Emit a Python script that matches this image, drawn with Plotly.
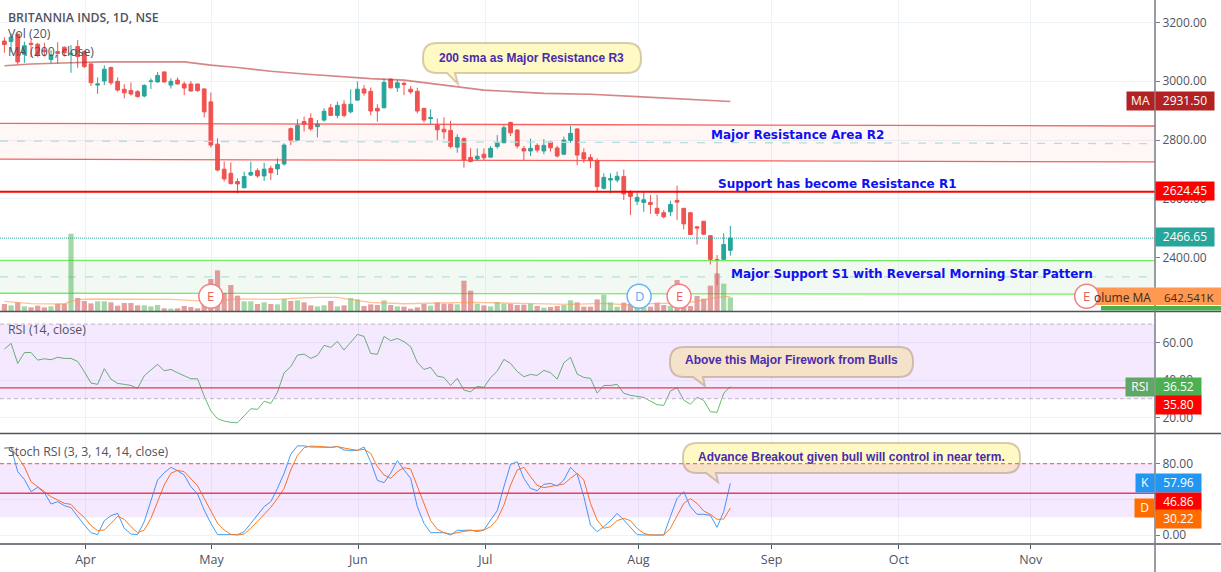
import plotly.graph_objects as go

opens = [3137,3135,3160,3092,3129,3126,3106,3074,3101,3116,3092,3118,3101,3059,2987,3001,3047,3000,2973,2969,2965,2950,2999,2998,3032,2987,3004,2991,2991,2991,
         2974,2930,2786,2701,2687,2659,2638,2681,2696,2678,2704,2702,2719,2839,2800,2863,2874,2846,2868,2910,2884,2922,2896,2936,2974,2966,2908,2910,3007,2978,
         2993,2973,2966,2908,2873,2851,2837,2833,2776,2805,2741,2736,2752,2742,2778,2791,2860,2834,2771,2763,2782,2763,2793,2773,2752,2799,2838,2757,2741,2730,
         2636,2664,2664,2676,2625,2592,2588,2588,2568,2553,2556,2595,2568,2553,2505,2524,2475,2394,2394,2425]
highs = [3150,3163,3163,3135,3140,3131,3131,3106,3133,3118,3123,3140,3106,3061,3013,3054,3050,3013,2990,2996,2970,2990,3010,3032,3032,3010,3013,2999,3001,2991,
         2976,2962,2806,2727,2724,2670,2693,2727,2704,2723,2713,2738,2789,2843,2871,2880,2891,2868,2908,2923,2931,2936,2973,3000,2987,2979,2922,3009,3010,3004,
         2999,2984,2978,2908,2905,2874,2877,2866,2820,2809,2772,2772,2772,2780,2817,2851,2863,2837,2780,2805,2789,2803,2797,2780,2812,2848,2840,2772,2752,2738,
         2687,2687,2693,2700,2630,2621,2625,2613,2614,2562,2594,2645,2568,2554,2508,2524,2475,2409,2483,2508]
lows = [3097,3099,3058,3063,3082,3082,3084,3061,3061,3084,3029,3046,3045,2984,2957,2987,2987,2965,2942,2951,2944,2945,2974,2995,2995,2975,2989,2953,2965,2965,
        2877,2775,2694,2659,2649,2619,2636,2678,2672,2661,2664,2681,2713,2783,2798,2829,2832,2809,2863,2882,2874,2877,2891,2934,2951,2885,2863,2908,2975,2964,
        2953,2957,2891,2860,2854,2800,2803,2772,2757,2706,2724,2732,2732,2740,2771,2789,2814,2772,2732,2746,2758,2752,2761,2741,2749,2791,2715,2723,2704,2622,
        2632,2619,2656,2596,2545,2579,2556,2549,2542,2534,2542,2528,2496,2477,2445,2477,2377,2307,2392,2407]
closes = [3125,3150,3066,3121,3126,3089,3101,3089,3095,3097,3095,3084,3050,2995,2991,3041,2995,2970,2961,2957,2948,2986,3001,3020,2998,3000,2991,2977,2967,2968,
          2896,2783,2698,2668,2652,2651,2676,2690,2678,2701,2689,2717,2783,2800,2850,2854,2838,2855,2898,2884,2918,2884,2922,2973,2960,2899,2899,2996,2978,2995,
          2989,2964,2899,2868,2877,2835,2828,2778,2809,2732,2727,2745,2740,2772,2791,2842,2825,2780,2763,2772,2766,2782,2774,2746,2800,2823,2749,2736,2730,2642,
          2673,2669,2677,2617,2608,2605,2597,2581,2551,2539,2581,2589,2515,2479,2501,2480,2394,2391,2445,2466.65]
volumes_k = [308,249,381,205,161,235,161,205,323,323,3403,572,440,337,425,425,381,235,352,352,249,249,205,264,117,103,117,220,176,117,
             499,1408,1790,792,1144,675,425,425,308,381,308,293,528,440,469,381,249,205,249,440,205,249,572,513,220,293,264,469,264,205,
             191,103,161,308,235,381,323,323,293,1335,895,323,249,205,396,323,323,264,279,323,220,147,176,220,264,469,381,191,191,513,
             719,381,191,367,308,191,161,191,367,264,220,1364,484,220,660,543,1115,1658,1203,601]
vol_ma_bars = [0,4,9,10,11,13,25,28,31,32,35,41,43,47,50,52,55,60,65,70,75,80,85,90,94,98,102,105,107,109]
vol_ma_k = [425,323,308,425,499,528,513,469,425,455,528,513,557,601,601,499,381,320,337,381,352,323,293,337,264,337,337,484,600,642.541]
ma_bars = [0,4,10,15,27,31,35,40,45,50,55,60,62,67,72,81,88,95,102,109]
ma_values = [3053,3059,3063,3066,3066,3055,3047,3034,3025,3016,3009,3004,2998,2985,2970,2959,2956,2948,2940,2931.5]
rsi = [56.6,59.7,48.9,54.7,54.8,50.7,51.4,50.9,52.2,51.6,51.6,50.0,44.5,38.4,37.7,46.1,40.5,38.2,37.7,37.1,35.5,42.3,45.4,48.4,45.0,45.7,43.9,42.3,40.7,40.7,
       31.4,23.4,19.3,18.0,17.3,17.1,20.9,24.6,24.3,28.6,27.5,33.4,43.9,47.2,53.4,53.9,51.6,53.2,58.6,57.5,60.7,56.1,60.2,64.5,63.4,54.3,53.8,63.4,61.1,62.3,
       60.6,57.9,49.5,45.7,46.8,42.1,41.4,37.1,40.9,34.6,33.7,36.6,36.1,41.3,44.8,51.1,48.9,44.6,41.8,43.0,42.5,45.2,43.9,40.5,49.3,52.2,43.2,41.4,40.9,33.0,
       37.1,37.1,37.7,32.9,31.8,31.2,30.7,28.7,26.8,26.4,34.1,35.9,29.3,27.0,30.7,29.1,23.0,22.7,32.9,36.52]
stoch_k = [97.2,98.3,71.0,62.4,48.6,53.5,47.5,34.8,37.4,32.9,30.7,20.6,11.2,2.6,0.4,16.1,21.7,24.3,7.5,1.1,0.4,15.0,39.3,61.7,69.9,75.9,72.1,67.3,54.2,46.0,
           28.0,13.1,0.4,0.4,0.4,0.4,3.7,13.1,21.7,31.8,37.4,52.3,69.2,90.5,100,100,98.7,98.7,98.3,98.3,99.4,95.3,94.9,94.9,98.7,82.2,61.3,58.7,69.2,83.4,
           72.9,63.5,31.8,13.1,2.6,2.6,2.6,0,5.2,5.2,5.6,3.7,5.6,16.8,27.3,54.2,79.3,82.2,63.5,52.3,49.7,56.8,57.9,54.9,61.7,75.9,68.4,43.0,11.2,3.7,
           9.3,16.1,24.3,16.8,8.6,0.4,0,0,0,0,20.6,41.1,48.6,31.8,23.2,23.2,22.1,8.6,26.2,57.96]
stoch_d = [97.6,98.3,87.9,76.6,59.8,54.2,49.3,43.0,39.3,35.5,34.4,26.2,19.8,10.5,4.9,5.6,13.1,20.9,17.6,9.3,2.6,5.6,18.7,37.4,56.1,69.2,72.5,71.0,63.6,55.3,
           41.1,26.2,13.1,5.6,0.7,0.0,1.1,7.5,15.0,23.6,31.0,41.1,52.3,72.9,89.3,97.9,99.8,99.4,98.7,98.3,99.1,97.2,96.1,95.0,96.1,91.6,76.6,67.3,63.6,71.0,
           75.5,74.0,54.2,35.5,16.1,6.4,2.6,1.1,3.0,4.1,4.9,5.2,5.6,9.3,17.6,33.6,56.1,72.9,75.9,65.4,55.7,53.1,54.2,55.7,57.2,63.6,69.2,61.7,35.5,16.8,
           7.5,9.3,16.1,18.7,16.1,7.5,1.9,0.0,0.0,0.0,7.5,22.4,35.5,40.7,35.5,26.9,23.2,17.6,17.9,30.22]
month_ticks = [12.18,31.1,53.14,72.2,95.2,115.2,134.3,154.1]
month_labels = ["Apr","May","Jun","Jul","Aug","Sep","Oct","Nov"]
r2_top = [2857,2848]
r2_mid = [2797,2788]
r2_bot = [2735,2726]
s1_top = [2391,2390]
s1_mid = [2335,2335]
s1_bot = [2279,2276]
line_span = [-0.66,172.76]
resistance_r1 = 2624.45
last_close = 2466.65
ma_last = 2931.50
vol_ma_last = 642.541
rsi_last = 36.52
rsi_level = 35.80
k_last = 57.96
d_last = 30.22
stoch_level = 46.86
earnings = [(31.0,"E"),(95.3,"D"),(101.3,"E"),(162.5,"E")]

W, H = 1221, 572
PW, PH = 1155, 544
def xp(px): return px / PW
def yp(py): return 1 - py / PH
FONT = "Open Sans, sans-serif"
TXT = "#50535E"

bars = list(range(len(closes)))
vol_colors = ["rgba(76,175,80,0.5)" if c >= o else "rgba(205,80,80,0.55)" for o, c in zip(opens, closes)]

fig = go.Figure()
def band(top, bot, col, fill, mid, yaxis="y"):
    fig.add_trace(go.Scatter(x=line_span, y=bot, mode="lines", line=dict(color=col, width=1.3), yaxis=yaxis, hoverinfo="skip"))
    fig.add_trace(go.Scatter(x=line_span, y=top, mode="lines", line=dict(color=col, width=1.3), fill="tonexty", fillcolor=fill, yaxis=yaxis, hoverinfo="skip"))
    fig.add_trace(go.Scatter(x=line_span, y=mid, mode="lines", line=dict(color="#B2DFDB", width=1.3, dash="8px,9px"), yaxis=yaxis, hoverinfo="skip"))

band(r2_top, r2_bot, "rgba(245,70,70,0.85)", "rgba(255,82,82,0.05)", r2_mid)
band(s1_top, s1_bot, "rgba(90,235,70,0.85)", "rgba(76,175,80,0.07)", s1_mid)
fig.add_trace(go.Bar(x=bars, y=volumes_k, marker=dict(color=vol_colors, line_width=0), width=0.78, yaxis="y2"))
fig.add_trace(go.Scatter(x=vol_ma_bars, y=vol_ma_k, mode="lines", line=dict(color="rgba(255,152,80,0.6)", width=1.4), yaxis="y2"))
fig.add_trace(go.Scatter(x=line_span, y=[resistance_r1]*2, mode="lines", line=dict(color="#FF0000", width=2)))
fig.add_trace(go.Scatter(x=line_span, y=[last_close]*2, mode="lines", line=dict(color="#26A69A", width=1, dash="1px,1px")))
fig.add_trace(go.Scatter(x=ma_bars, y=ma_values, mode="lines", line=dict(color="rgba(178,34,34,0.55)", width=1.6)))
fig.add_trace(go.Candlestick(x=bars, open=opens, high=highs, low=lows, close=closes, whiskerwidth=0,
    increasing=dict(line=dict(color="#26A69A", width=1), fillcolor="#26A69A"),
    decreasing=dict(line=dict(color="#EF5350", width=1), fillcolor="#EF5350")))
fig.add_trace(go.Scatter(x=bars, y=rsi, mode="lines", line=dict(color="rgba(76,175,80,0.85)", width=1), yaxis="y3"))
fig.add_trace(go.Scatter(x=line_span, y=[rsi_level]*2, mode="lines", line=dict(color="#EF3F3F", width=1.2), yaxis="y3"))
fig.add_trace(go.Scatter(x=bars, y=stoch_k, mode="lines", line=dict(color="#3FA0F5", width=1), yaxis="y4"))
fig.add_trace(go.Scatter(x=bars, y=stoch_d, mode="lines", line=dict(color="#FF7A1A", width=1), yaxis="y4"))
fig.add_trace(go.Scatter(x=line_span, y=[stoch_level]*2, mode="lines", line=dict(color="#F6404F", width=1.5), yaxis="y4"))

shapes = []
def bubble(x0, y0, x1, y1, tb0, tb1, tx, ty, r=14):
    X, Y = xp, yp
    path = (f"M{X(x0+r)},{Y(y0)} L{X(x1-r)},{Y(y0)} Q{X(x1)},{Y(y0)} {X(x1)},{Y(y0+r)} L{X(x1)},{Y(y1-r)} "
            f"Q{X(x1)},{Y(y1)} {X(x1-r)},{Y(y1)} L{X(tb1)},{Y(y1)} L{X(tx)},{Y(ty)} L{X(tb0)},{Y(y1)} L{X(x0+r)},{Y(y1)} "
            f"Q{X(x0)},{Y(y1)} {X(x0)},{Y(y1-r)} L{X(x0)},{Y(y0+r)} Q{X(x0)},{Y(y0)} {X(x0+r)},{Y(y0)} Z")
    shapes.append(dict(type="path", xref="paper", yref="paper", path=path, fillcolor="#FFF9C4",
                       line=dict(color="rgba(190,170,130,0.6)", width=2), layer="above"))
bubble(423,43,641,73,447,455,458,84)
bubble(670,347,913,377,693,703,705,386)
bubble(683,443,1020,473,706,716,718,482)

PURPLE = "rgba(153,21,255,0.095)"
shapes.append(dict(type="rect", xref="x", yref="y3", x0=line_span[0], x1=line_span[1], y0=30, y1=70, fillcolor=PURPLE, line_width=0, layer="above"))
shapes.append(dict(type="rect", xref="x", yref="y4", x0=line_span[0], x1=line_span[1], y0=20, y1=80, fillcolor=PURPLE, line_width=0, layer="above"))
for yr, v, col in (("y3",70,"#C9BFCF"),("y3",30,"#C9BFCF"),("y4",80,"#F26D6D")):
    shapes.append(dict(type="line", xref="x", yref=yr, x0=line_span[0], x1=line_span[1], y0=v, y1=v,
                       line=dict(color=col, width=1.2, dash="4px,3px"), layer="above"))
# pane separators and price-scale rule
for py in (311.5, 433.5, 544):
    shapes.append(dict(type="line", xref="paper", yref="paper", x0=0, x1=W/PW, y0=yp(py), y1=yp(py), line=dict(color="#50535E", width=1.5), layer="above"))
shapes.append(dict(type="line", xref="paper", yref="paper", x0=1, x1=1, y0=yp(0), y1=yp(572), line=dict(color="#787B86", width=1.5), layer="above"))
# value labels that need to sit under the event circle
shapes.append(dict(type="rect", xref="paper", yref="paper", x0=xp(1095), x1=xp(1221), y0=yp(305), y1=yp(287.5), fillcolor="#FF9850", line_width=0, layer="above"))
shapes.append(dict(type="rect", xref="paper", yref="paper", x0=xp(1101), x1=xp(1221), y0=yp(310.5), y1=yp(306), fillcolor="#4CAF50", line_width=0, layer="above"))
for bar, t in earnings:
    c = "#64B5F6" if t == "D" else "#F08080"
    shapes.append(dict(type="circle", xref="x", yref="y2", xsizemode="pixel", ysizemode="pixel",
                       xanchor=bar, yanchor=651, x0=-12, x1=12, y0=-12, y1=12, fillcolor="white", line=dict(color=c, width=1.5), layer="above"))

ann = []
def text(s, px, py, size=12, color=TXT, bold=False, anchor="left", family=FONT, weight=None):
    f = dict(size=size, color=color, family=family)
    if weight: f["weight"] = weight
    ann.append(dict(text=f"<b>{s}</b>" if bold else s, xref="paper", yref="paper", x=xp(px), y=yp(py), xanchor=anchor, yanchor="middle",
                    showarrow=False, font=f))
text("BRITANNIA INDS, 1D, NSE", 6, 17, size=12.3, color="#50535E", weight=600)
text("Vol (20)", 6, 33, size=12.3)
text("MA (200, close)", 6, 51, size=12.3)
text("RSI (14, close)", 6, 329, size=12.3)
text("Stoch RSI (3, 3, 14, 14, close)", 6, 451, size=12.3)
VIO = "#4A2BAE"
SANS = "Liberation Sans, Arial, sans-serif"
text("200 sma as Major Resistance R3", 531, 58, size=12, color=VIO, bold=True, anchor="center", family=SANS)
text("Above this Major Firework from Bulls", 791, 360, size=12, color=VIO, bold=True, anchor="center", family=SANS)
text("Advance Breakout given bull will control in near term.", 851, 457, size=12, color=VIO, bold=True, anchor="center", family=SANS)
BLUE = "#1010F0"
VERD = "DejaVu Sans, sans-serif"
text("Major Resistance Area R2", 709, 135, size=12, color=BLUE, bold=True, family=VERD)
text("Support has become Resistance R1", 716, 184, size=12, color=BLUE, bold=True, family=VERD)
text("Major Support S1 with Reversal Morning Star Pattern", 729, 274, size=12, color=BLUE, bold=True, family=VERD)

def label(s, yref, y, bg, w=60, side="right", color="white", yshift=0, h=17.5):
    ann.append(dict(text=s, xref="paper", yref=yref, x=1, y=y, xanchor="left" if side=="right" else "right", yanchor="middle",
                    showarrow=False, bgcolor=bg, width=w, height=h, align="center", valign="middle", yshift=yshift, borderpad=0,
                    font=dict(size=12, color=color, family=FONT)))
label("MA", "y", ma_last, "#B22222", w=27, side="left")
label(f"{ma_last:.2f}", "y", ma_last, "#B22222", w=58)
label(f"{resistance_r1:.2f}", "y", resistance_r1, "#FF0000", yshift=1, w=58)
label(f"{last_close:.2f}", "y", last_close, "#26A69A", yshift=1, w=58)
label("RSI", "y3", rsi_last, "#5FA863", w=28, side="left")
label(f"{rsi_last:.2f}", "y3", rsi_last, "#4CAF50", w=45)
label(f"{rsi_level:.2f}", "y3", rsi_level, "#FF0000", w=45, yshift=-17)
label("K", "y4", k_last, "#2196F3", w=18, side="left")
label(f"{k_last:.2f}", "y4", k_last, "#2196F3", w=45)
label(f"{stoch_level:.2f}", "y4", stoch_level, "#FF0000", w=45, yshift=-8.5)
label("D", "y4", d_last, "#FF6D00", w=19, side="left")
label(f"{d_last:.2f}", "y4", d_last, "#FF6D00", w=45, yshift=-11)
text("olume MA", 1153, 297, size=12, color="#3a2a20", anchor="right")
ann.append(dict(text=f"{vol_ma_last:.3f}K", xref="paper", yref="paper", x=xp(1162), y=yp(297), xanchor="left", yanchor="middle",
                showarrow=False, font=dict(size=11.5, color="#3a2a20", family=FONT)))
for bar, t in earnings:
    ann.append(dict(text=t, xref="x", yref="y2", x=bar, y=651, showarrow=False, font=dict(size=13, color="#64A9EE" if t=="D" else "#E86060", family=FONT)))

GRID = "#EEF3F8"
def yax(**k):
    d = dict(side="right", anchor="x", gridcolor=GRID, gridwidth=1, zeroline=False, ticks="outside", ticklen=4, tickcolor="#787B86",
             tickfont=dict(size=12, color=TXT, family=FONT), tickformat=".2f", showline=False, fixedrange=True)
    d.update(k); return d

fig.update_layout(
    width=W, height=H, margin=dict(l=0, r=W-PW, t=0, b=H-PH, pad=0), showlegend=False, plot_bgcolor="white", paper_bgcolor="white",
    bargap=0.2, boxgap=0.2, shapes=shapes, annotations=ann, hovermode=False,
    xaxis=dict(range=line_span, rangeslider=dict(visible=False), tickmode="array", tickvals=month_ticks, ticktext=month_labels,
               gridcolor=GRID, zeroline=False, ticks="outside", ticklen=4, tickcolor="#50535E", anchor="y4",
               tickfont=dict(size=12.5, color=TXT, family=FONT), showline=False),
    yaxis=yax(domain=[1-311/PH, 1], range=[2218.7, 3276.5], tickmode="array", tickvals=[3200,3000,2800,2600,2400]),
    yaxis2=dict(overlaying="y", range=[0, 13698], visible=False, side="right", anchor="x", fixedrange=True),
    yaxis3=yax(domain=[1-433/PH, 1-312/PH], range=[11.6, 76.5], tickmode="array", tickvals=[60,40,20]),
    yaxis4=yax(domain=[0, 1-434/PH], range=[-10.1, 113.3], tickmode="array", tickvals=[80,40,0]),
)
fig.write_html("out.html", config=dict(displayModeBar=False), post_script="document.body.style.margin='0';document.body.style.overflow='hidden';")
